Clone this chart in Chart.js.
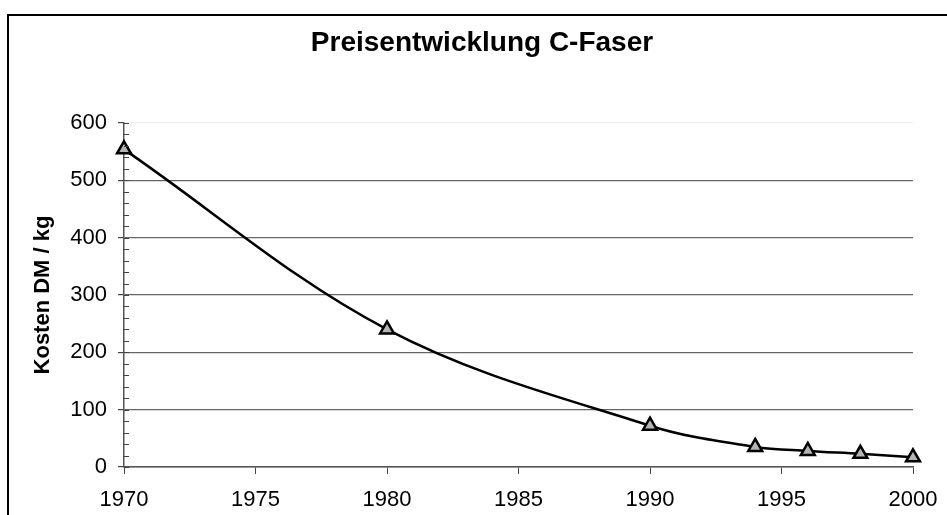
<!DOCTYPE html>
<html>
<head>
<meta charset="utf-8">
<script src="https://cdn.jsdelivr.net/npm/chart.js@4"></script>
<style>
  html, body { margin: 0; padding: 0; background: #fff; }
  #wrap { position: relative; width: 947px; height: 515px; }
  #frame { position: absolute; left: 7px; top: 14px; right: 0; bottom: 0;
           border-left: 2px solid #000; border-top: 2px solid #000; box-sizing: border-box; }
  canvas { position: absolute; left: 0; top: 0; }
</style>
</head>
<body>
<div id="wrap">
  <div id="frame"></div>
  <canvas id="c" width="947" height="515"></canvas>
</div>
<script>
const chartTitle = 'Preisentwicklung C-Faser';
const yAxisTitle = 'Kosten DM / kg';
const years = [1970, 1980, 1990, 1994, 1996, 1998, 2000];
const prices = [554, 240, 72, 35, 28, 23, 17];
const xTicks = [1970, 1975, 1980, 1985, 1990, 1995, 2000];
const yTicks = [0, 100, 200, 300, 400, 500, 600];

const FONT = "'Liberation Sans', Arial, sans-serif";

const minorTicks = {
  id: 'minorTicks',
  afterDraw(chart) {
    const ctx = chart.ctx;
    const y = chart.scales.y;
    const left = chart.chartArea.left;
    ctx.save();
    ctx.strokeStyle = '#444';
    ctx.lineWidth = 1;
    for (let v = 0; v <= 600; v += 20) {
      const py = Math.round(y.getPixelForValue(v)) + 0.5;
      ctx.beginPath();
      ctx.moveTo(left, py);
      ctx.lineTo(left + 5, py);
      ctx.stroke();
    }
    ctx.restore();
  }
};

const titleText = {
  id: 'titleText',
  afterDraw(chart) {
    const ctx = chart.ctx;
    ctx.save();
    ctx.fillStyle = '#000';
    ctx.font = "bold 28px " + FONT;
    ctx.textAlign = 'center';
    ctx.textBaseline = 'middle';
    ctx.fillText(chartTitle, 482, 43);
    ctx.restore();
  }
};

new Chart(document.getElementById('c'), {
  type: 'line',
  data: {
    datasets: [{
      data: years.map((x, i) => ({ x: x, y: prices[i] })),
      borderColor: '#000',
      borderWidth: 2.5,
      tension: 0.35,
      clip: false,
      pointStyle: 'triangle',
      pointRadius: 8,
      pointBorderWidth: 2.5,
      pointBackgroundColor: '#b4b4b4',
      pointBorderColor: '#000',
      fill: false
    }]
  },
  options: {
    responsive: false,
    animation: false,
    layout: { padding: { left: 0, right: 34, top: 123, bottom: 0 } },
    plugins: {
      legend: { display: false },
      tooltip: { enabled: false },
      title: { display: false }
    },
    scales: {
      x: {
        type: 'linear',
        min: xTicks[0],
        max: xTicks[xTicks.length - 1],
        afterBuildTicks(scale) { scale.ticks = xTicks.map(v => ({ value: v })); },
        afterFit(scale) { scale.height = 48; scale.paddingLeft = 0; scale.paddingRight = 0; },
        ticks: {
          color: '#000',
          font: { family: FONT, size: 22 },
          padding: 13,
          maxRotation: 0,
          autoSkip: false,
          callback: v => String(v)
        },
        grid: {
          drawOnChartArea: false,
          drawTicks: true,
          tickLength: 7,
          tickColor: '#444',
          lineWidth: 1
        },
        border: { display: true, color: '#555', width: 1.5 }
      },
      y: {
        type: 'linear',
        min: yTicks[0],
        max: yTicks[yTicks.length - 1],
        afterBuildTicks(scale) { scale.ticks = yTicks.map(v => ({ value: v })); },
        afterFit(scale) { scale.width = 124; scale.paddingTop = 0; scale.paddingBottom = 0; },
        ticks: {
          color: '#000',
          font: { family: FONT, size: 22 },
          padding: 11,
          autoSkip: false,
          callback: v => String(v)
        },
        grid: {
          color: c => (c.tick && c.tick.value === 600) ? '#eeeeee' : '#666666',
          lineWidth: 1.2,
          drawTicks: true,
          tickLength: 6,
          tickColor: '#444'
        },
        border: { display: true, color: '#555', width: 1.5 },
        title: {
          display: true,
          text: yAxisTitle,
          color: '#000',
          font: { family: FONT, size: 22, weight: 'bold', lineHeight: 1.2 },
          padding: { top: 30, bottom: 0 }
        }
      }
    }
  },
  plugins: [minorTicks, titleText]
});
</script>
</body>
</html>
